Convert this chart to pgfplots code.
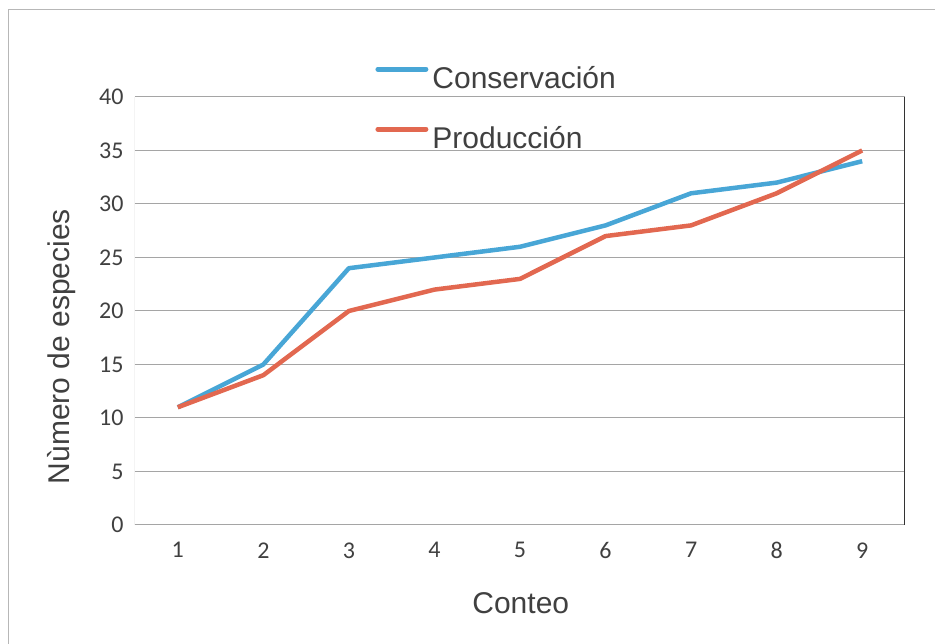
\documentclass[border=0pt]{standalone}
\usepackage{fontspec}
\setmainfont{Liberation Sans}
\newfontfamily\carlito{Carlito}
\usepackage{pgfplots}
\pgfplotsset{compat=1.18}

\definecolor{consblue}{RGB}{72,166,214}
\definecolor{prodred}{RGB}{226,104,80}
\definecolor{gridgray}{RGB}{165,165,165}
\definecolor{txtgray}{RGB}{64,64,64}

\begin{document}
\begin{tikzpicture}[x=1pt,y=1pt]
\useasboundingbox (0,0) rectangle (935,644);
% outer chart frame (cut at right and bottom in the scan)
\draw[gridgray!80, line width=1pt] (8,0) -- (8,634) -- (935,634);
\begin{axis}[
    at={(135pt,119pt)}, anchor=south west,
    scale only axis, width=770pt, height=428pt,
    xmin=0.5, xmax=9.5, ymin=0, ymax=40,
    xtick={1,...,9}, ytick={0,5,...,40},
    axis line style={draw=none},
    ymajorgrids, grid style={gridgray, line width=1pt},
    tick pos=left,
    xtick style={draw=none},
    ytick style={gridgray, line width=1pt},
    major tick length=7pt,
    ticklabel style={font=\carlito\fontsize{24}{24}\selectfont, text=txtgray},
    /pgf/number format/assume math mode=true,
    yticklabel style={xshift=-8pt},
    xticklabel style={yshift=-14pt},
    xlabel={Conteo}, ylabel={Nùmero de especies},
    label style={font=\fontsize{30}{30}\selectfont, text=txtgray},
    xlabel style={at={(axis description cs:0.501,-0.182)}, anchor=center},
    ylabel style={at={(axis description cs:-0.095,0.417)}, anchor=center, rotate=0},
    legend style={at={(axis description cs:0.312,1.0724)}, anchor=north west,
        draw=none, fill=none, inner sep=0pt, row sep=32pt, column sep=4pt,
        font=\fontsize{30}{30}\selectfont, text=txtgray,
        nodes={inner sep=0pt, text height=22pt, text depth=6pt}},
    legend cell align=left,
    legend image code/.code={\draw[#1, line width=5pt, line cap=round] (0,11pt) -- (48pt,11pt);},
  ]
  % axis frame: gray left and bottom, dark right
  \draw[gridgray, line width=1pt] (rel axis cs:0,1) -- (rel axis cs:0,0) -- (rel axis cs:1,0);
  \draw[black!80, line width=1.5pt] (rel axis cs:1,1) -- ([yshift=-6pt]rel axis cs:1,0);
  \addplot[consblue, line width=4.5pt, line join=round] coordinates {
    (1,11) (2,15) (3,24) (4,25) (5,26) (6,28) (7,31) (8,32) (9,34)
  };
  \addlegendentry{Conservación}
  \addplot[prodred, line width=4.5pt, line join=round] coordinates {
    (1,11) (2,14) (3,20) (4,22) (5,23) (6,27) (7,28) (8,31) (9,35)
  };
  \addlegendentry{Producción}
\end{axis}
\end{tikzpicture}
\end{document}
